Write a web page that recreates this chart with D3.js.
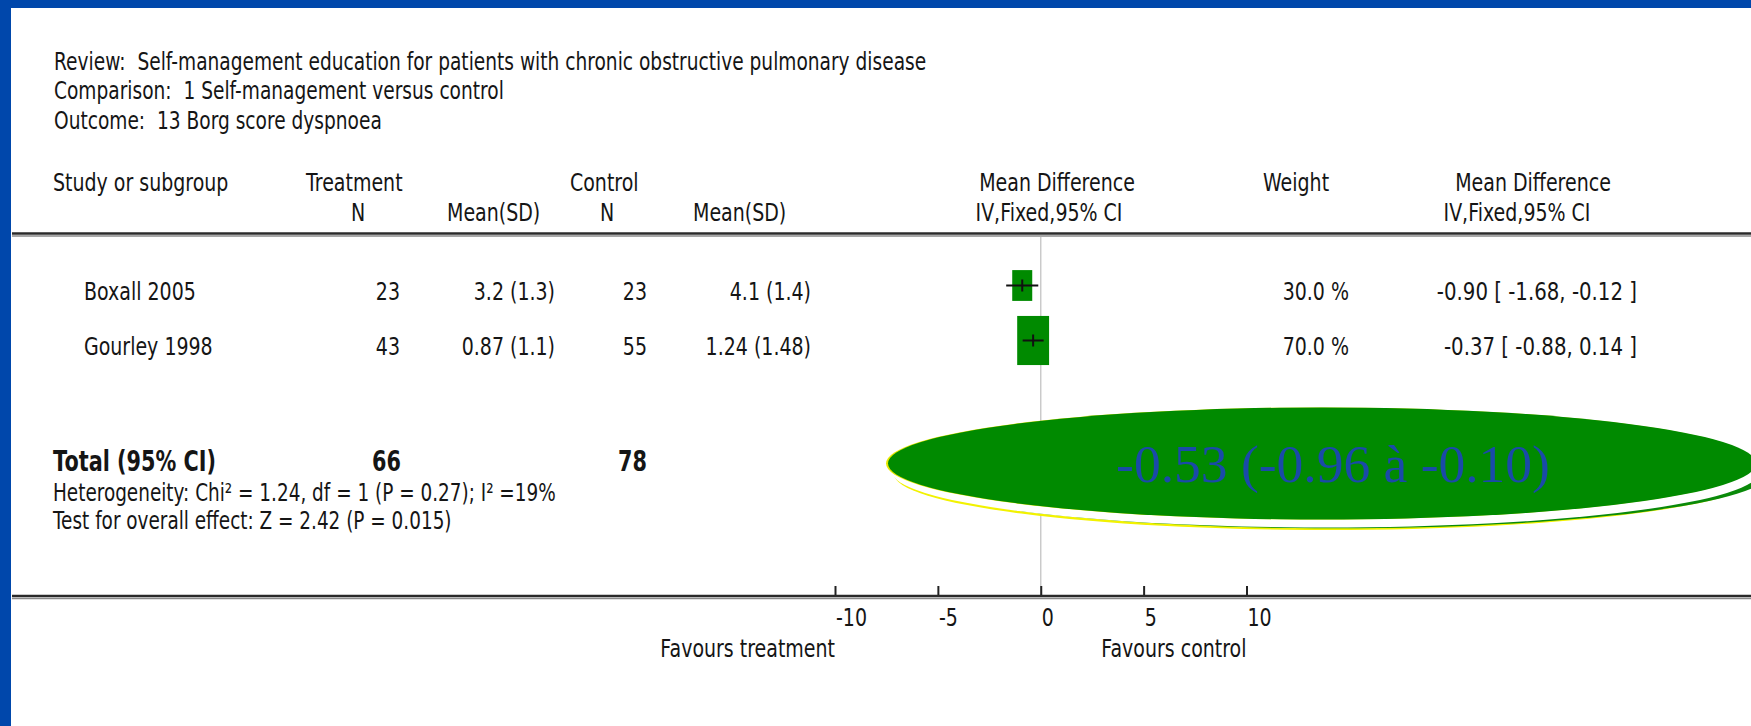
<!DOCTYPE html>
<html>
<head>
<meta charset="utf-8">
<script src="https://cdn.jsdelivr.net/npm/d3@7"></script>
<style>
html,body{margin:0;padding:0;background:#fff;}
svg{display:block;}
text{white-space:pre;}
</style>
</head>
<body>
<svg id="chart" width="1751" height="726"></svg>
<script>
// ---------- data ----------
const titleLines = [
  "Review:  Self-management education for patients with chronic obstructive pulmonary disease",
  "Comparison:  1 Self-management versus control",
  "Outcome:  13 Borg score dyspnoea"
];
const studies   = ["Boxall 2005", "Gourley 1998"];
const treatN    = [23, 43];
const treatMean = [3.2, 0.87];
const treatSD   = [1.3, 1.1];
const ctrlN     = [23, 55];
const ctrlMean  = [4.1, 1.24];
const ctrlSD    = [1.4, 1.48];
const md        = [-0.90, -0.37];
const ciLow     = [-1.68, -0.88];
const ciHigh    = [-0.12, 0.14];
const weights   = [30.0, 70.0];
const totalN    = [66, 78];
const pooled    = [-0.53, -0.96, -0.10];
const heterogeneity = {chi2: 1.24, df: 1, p: 0.27, i2: 19};
const overall   = {z: 2.42, p: 0.015};
const axisTicks = [-10, -5, 0, 5, 10];
const favours   = ["Favours treatment", "Favours control"];

// ---------- drawing ----------
const svg = d3.select("#chart");
const SANS = "'DejaVu Sans', 'Noto Sans', sans-serif";
const SERIF = "'Liberation Serif', 'DejaVu Serif', serif";
const INK = "#151515";

function T(sel, x, y, s, o = {}) {
  const size = o.size || 19, sx = o.sx || 1, sy = o.sy || 1.3;
  return sel.append("text")
    .attr("transform", `translate(${x},${y}) scale(${sx},${sy})`)
    .attr("text-anchor", o.anchor || "start")
    .attr("xml:space", "preserve")
    .style("font-family", o.family || SANS)
    .style("font-size", size + "px")
    .style("font-weight", o.weight || "normal")
    .attr("fill", o.fill || INK)
    .text(s);
}

// blue slide frame
svg.append("rect").attr("x", 0).attr("y", 0).attr("width", 1751).attr("height", 8).attr("fill", "#0047ab");
svg.append("rect").attr("x", 0).attr("y", 0).attr("width", 11).attr("height", 726).attr("fill", "#0047ab");

const x = d3.scaleLinear().domain([-10, 10]).range([835, 1246.5]);

// titles
const titleY = d3.scaleLinear().domain([0, 1]).range([70, 99.3]);
titleLines.forEach((t, i) => T(svg, 54, titleY(i), t, {size: 18.6, sy: 1.3}));

// header
const H1 = 191, H2 = 221;
T(svg, 53, H1, "Study or subgroup");
T(svg, 306, H1, "Treatment");
T(svg, 570, H1, "Control");
T(svg, 351, H2, "N");
T(svg, 447, H2, "Mean(SD)");
T(svg, 600, H2, "N");
T(svg, 693, H2, "Mean(SD)");
T(svg, 1057, H1, "Mean Difference", {anchor: "middle"});
T(svg, 1049, H2, "IV,Fixed,95% CI", {anchor: "middle"});
T(svg, 1296, H1, "Weight", {anchor: "middle"});
T(svg, 1533, H1, "Mean Difference", {anchor: "middle"});
T(svg, 1517, H2, "IV,Fixed,95% CI", {anchor: "middle"});

// header rule
svg.append("line").attr("x1", 12).attr("x2", 1751).attr("y1", 233.5).attr("y2", 233.5).attr("stroke", "#2a2a2a").attr("stroke-width", 2.4);
svg.append("line").attr("x1", 12).attr("x2", 1751).attr("y1", 236).attr("y2", 236).attr("stroke", "#8a8a8a").attr("stroke-width", 1.4);

// zero line
svg.append("line").attr("x1", x(0)).attr("x2", x(0)).attr("y1", 237).attr("y2", 595)
  .attr("stroke", "#c8c8c8").attr("stroke-width", 1.4);

// study rows
const rowY = d3.scaleLinear().domain([0, 1]).range([300, 355]);
const boxW = d3.scalePow().exponent(0.55).domain([0, 100]).range([0, 38.8]);
studies.forEach((s, i) => {
  const y = rowY(i);
  T(svg, 84, y, s);
  T(svg, 400, y, String(treatN[i]), {anchor: "end"});
  T(svg, 555, y, `${treatMean[i]} (${treatSD[i]})`, {anchor: "end"});
  T(svg, 647, y, String(ctrlN[i]), {anchor: "end"});
  T(svg, 811, y, `${ctrlMean[i]} (${ctrlSD[i]})`, {anchor: "end"});
  T(svg, 1349, y, weights[i].toFixed(1) + " %", {anchor: "end"});
  T(svg, 1637, y, `${md[i].toFixed(2)} [ ${ciLow[i].toFixed(2)}, ${ciHigh[i].toFixed(2)} ]`, {anchor: "end", sx: 1.04});

  const cy = y - 14.5;
  const w = boxW(weights[i]), h = w * 1.54;
  svg.append("rect").attr("x", x(md[i]) - w / 2).attr("y", cy - h / 2)
    .attr("width", w).attr("height", h).attr("fill", "#008a00");
  svg.append("line").attr("x1", x(ciLow[i])).attr("x2", x(ciHigh[i])).attr("y1", cy).attr("y2", cy)
    .attr("stroke", "#111").attr("stroke-width", 2);
  svg.append("line").attr("x1", x(md[i])).attr("x2", x(md[i])).attr("y1", cy - 6).attr("y2", cy + 6)
    .attr("stroke", "#111").attr("stroke-width", 2);
});

// totals
const bold = {weight: "bold", size: 20, sy: 1.45, sx: 1.04};
T(svg, 53, 471, "Total (95% CI)", bold);
T(svg, 401, 471, String(totalN[0]), Object.assign({anchor: "end"}, bold));
T(svg, 647, 471, String(totalN[1]), Object.assign({anchor: "end"}, bold));
T(svg, 53, 501, `Heterogeneity: Chi\u00b2 = ${heterogeneity.chi2}, df = ${heterogeneity.df} (P = ${heterogeneity.p}); I\u00b2 =${heterogeneity.i2}%`, {sx: 0.97});
T(svg, 53, 529, `Test for overall effect: Z = ${overall.z} (P = ${overall.p})`, {sx: 0.97});

// bottom axis
svg.append("line").attr("x1", 12).attr("x2", 1751).attr("y1", 596).attr("y2", 596).attr("stroke", "#2a2a2a").attr("stroke-width", 2.4);
svg.append("line").attr("x1", 12).attr("x2", 1751).attr("y1", 598.5).attr("y2", 598.5).attr("stroke", "#8a8a8a").attr("stroke-width", 1.4);
const axisG = svg.append("g").attr("transform", "translate(0,595)");
axisG.call(d3.axisTop(x).tickValues(axisTicks).tickSize(9).tickFormat(""));
axisG.select(".domain").remove();
axisG.selectAll(".tick line").attr("stroke", "#222").attr("stroke-width", 2);
axisTicks.forEach(t => T(svg, x(t) + 1, 626, String(t)));
T(svg, x(-10), 657, favours[0], {anchor: "end"});
T(svg, x(10), 657, favours[1], {anchor: "end"});

// pooled-estimate callout ellipse
const E = {cx: 1322, cy: 463.5, rx: 434, ry: 56};
svg.append("ellipse").attr("cx", E.cx + 6).attr("cy", E.cy + 10.5).attr("rx", E.rx).attr("ry", E.ry).attr("fill", "#f2f200");
svg.append("ellipse").attr("cx", E.cx + 14).attr("cy", E.cy + 8.8).attr("rx", E.rx).attr("ry", E.ry).attr("fill", "#0a8a0a");
svg.append("ellipse").attr("cx", E.cx + 4).attr("cy", E.cy + 8).attr("rx", E.rx).attr("ry", E.ry).attr("fill", "#ffffff");
svg.append("ellipse").attr("cx", E.cx - 2).attr("cy", E.cy).attr("rx", E.rx).attr("ry", E.ry).attr("fill", "#e8e800");
svg.append("ellipse").attr("cx", E.cx).attr("cy", E.cy).attr("rx", E.rx).attr("ry", E.ry).attr("fill", "#008a00");
svg.append("text").attr("x", 1333).attr("y", 482).attr("text-anchor", "middle")
  .style("font-family", SERIF).style("font-size", "53.5px").attr("fill", "#1a4aa8")
  .text(`${pooled[0].toFixed(2)} (${pooled[1].toFixed(2)} \u00e0 ${pooled[2].toFixed(2)})`);
</script>
</body>
</html>
